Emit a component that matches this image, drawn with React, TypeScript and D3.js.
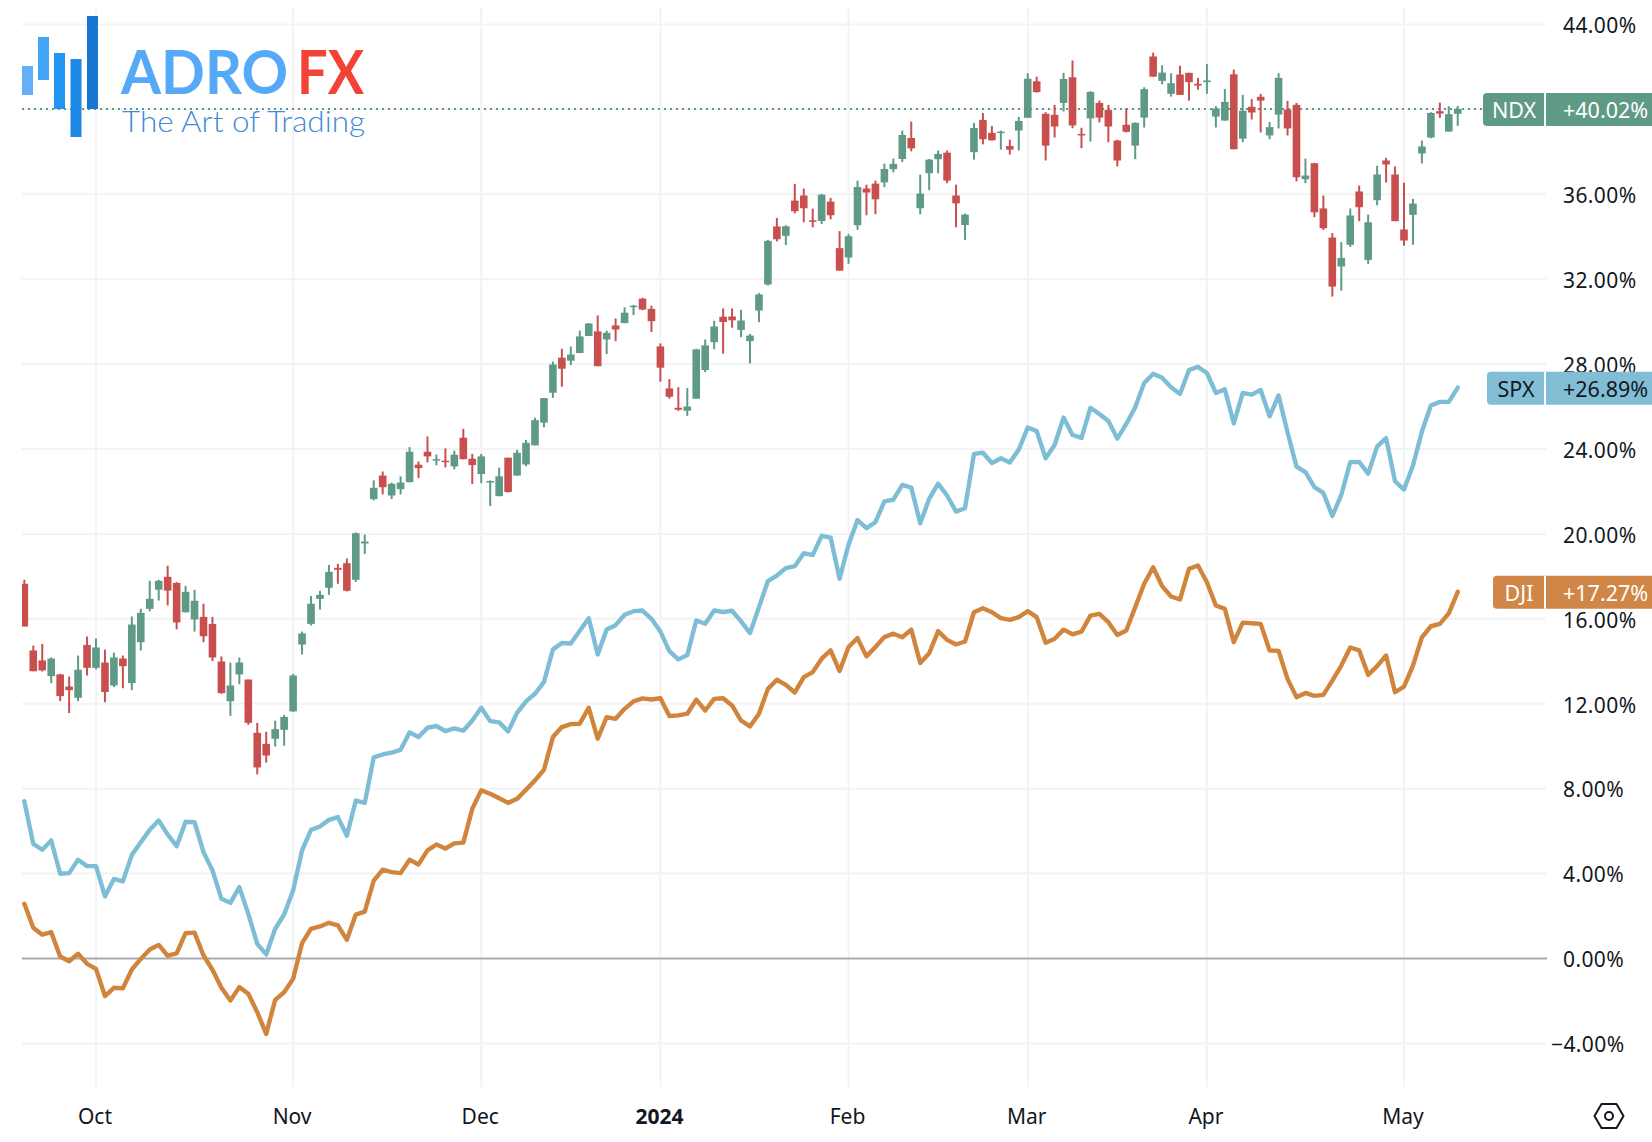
import React from "react";
import * as d3 from "d3";

// NDX daily candles in % since start: [open, high, low, close]
const ndxCandles: [number, number, number, number][] = [
  [17.65, 17.84, 15.64, 15.64], [14.51, 14.74, 13.53, 13.53], [14.04, 14.82, 13.52, 13.57], [13.3, 14.18, 12.97, 14.13],
  [13.38, 13.41, 12.12, 12.36], [12.81, 13.28, 11.56, 12.64], [12.28, 14.27, 12.12, 13.6], [14.77, 15.17, 13.33, 13.69],
  [13.69, 15.07, 13.63, 14.65], [13.94, 14.55, 12.07, 12.55], [12.86, 14.41, 12.78, 14.18], [14.13, 14.27, 12.73, 13.77],
  [12.97, 16.11, 12.64, 15.73], [14.9, 16.47, 14.51, 16.28], [16.47, 17.79, 16.35, 16.94], [17.37, 17.84, 16.86, 17.79],
  [17.98, 18.5, 16.63, 17.33], [17.69, 17.73, 15.5, 15.83], [16.31, 17.55, 16.3, 17.27], [15.97, 17.37, 15.4, 16.85],
  [16.09, 16.71, 14.9, 15.18], [15.76, 16.09, 14.01, 14.18], [13.99, 14.23, 12.47, 12.5], [12.12, 13.94, 11.43, 12.86],
  [13.38, 14.18, 12.92, 13.94], [13.14, 13.14, 11.01, 11.1], [10.63, 11.1, 8.67, 9.0], [10.11, 10.68, 9.23, 9.56],
  [10.35, 11.2, 9.99, 10.8], [10.77, 11.48, 10.02, 11.38], [11.64, 13.41, 11.62, 13.33], [14.79, 15.4, 14.32, 15.31],
  [15.76, 17.08, 15.69, 16.71], [16.94, 17.32, 16.44, 17.13], [17.46, 18.54, 17.13, 18.21], [18.4, 18.59, 17.65, 18.31],
  [18.62, 18.84, 17.29, 17.32], [17.84, 20.07, 17.74, 20.03], [19.55, 19.97, 19.06, 19.64], [21.64, 22.52, 21.58, 22.17],
  [22.75, 22.94, 21.86, 22.2], [21.81, 22.42, 21.64, 22.36], [22.11, 22.71, 21.86, 22.42], [22.44, 24.09, 22.42, 23.87],
  [23.26, 23.41, 22.63, 23.1], [23.87, 24.59, 23.37, 23.65], [23.48, 23.74, 23.23, 23.52], [23.45, 24.03, 23.13, 23.38],
  [23.18, 23.92, 23.04, 23.73], [24.53, 24.95, 23.51, 23.52], [23.54, 23.77, 22.35, 23.24], [22.82, 23.77, 22.39, 23.65],
  [22.42, 22.52, 21.31, 22.49], [21.78, 23.12, 21.77, 22.71], [23.59, 23.59, 21.95, 21.97], [22.75, 23.96, 22.74, 23.82],
  [23.27, 24.43, 23.19, 24.29], [24.17, 25.47, 24.17, 25.36], [25.24, 26.4, 25.02, 26.4], [26.65, 28.12, 26.41, 27.98],
  [28.3, 28.72, 26.93, 27.78], [28.16, 28.83, 27.95, 28.45], [28.52, 29.58, 28.52, 29.3], [29.32, 29.93, 29.32, 29.91],
  [29.54, 30.29, 27.9, 27.9], [29.16, 29.57, 28.47, 29.47], [29.82, 30.15, 29.08, 29.63], [29.93, 30.67, 29.93, 30.42],
  [30.7, 30.79, 30.31, 30.75], [31.08, 31.12, 30.54, 30.57], [30.6, 30.75, 29.51, 30.02], [28.83, 28.97, 27.17, 27.83],
  [26.85, 27.29, 26.37, 26.46], [25.94, 26.91, 25.8, 25.85], [25.8, 26.87, 25.56, 26.0], [26.37, 28.72, 26.37, 28.69],
  [27.72, 29.16, 27.62, 28.88], [29.03, 30.04, 28.7, 29.77], [30.23, 30.62, 28.49, 29.98], [30.24, 30.62, 29.71, 30.06],
  [29.61, 30.56, 29.27, 30.05], [29.08, 29.42, 28.03, 29.34], [30.52, 31.34, 29.97, 31.28], [31.75, 33.85, 31.7, 33.8],
  [34.48, 34.88, 33.78, 33.88], [34.04, 34.54, 33.61, 34.49], [35.7, 36.49, 35.1, 35.2], [35.94, 36.27, 34.68, 35.34],
  [34.77, 35.32, 34.44, 34.7], [34.74, 36.01, 34.6, 35.98], [35.65, 35.83, 34.82, 35.01], [33.46, 34.26, 32.4, 32.4],
  [33.02, 34.13, 32.72, 34.02], [34.54, 36.64, 34.32, 36.34], [36.27, 36.45, 35.01, 36.08], [36.5, 36.64, 35.06, 35.76],
  [36.56, 37.44, 36.33, 37.19], [37.18, 37.68, 37.03, 37.43], [37.66, 39.0, 37.52, 38.79], [38.65, 39.42, 38.02, 38.16],
  [35.34, 36.92, 35.06, 36.03], [36.99, 37.66, 36.19, 37.63], [37.65, 38.06, 36.99, 37.9], [37.96, 38.06, 36.52, 36.64],
  [35.94, 36.45, 34.44, 35.57], [34.55, 35.09, 33.85, 35.04], [37.98, 39.36, 37.63, 39.12], [39.5, 39.83, 38.35, 38.59],
  [38.89, 39.22, 38.53, 38.54], [38.9, 39.0, 38.1, 38.95], [38.27, 38.57, 37.87, 38.1], [39.0, 39.64, 38.06, 39.45],
  [39.6, 41.7, 39.6, 41.44], [41.32, 41.54, 40.79, 40.81], [39.79, 39.86, 37.59, 38.29], [39.74, 40.21, 38.67, 39.19],
  [40.3, 41.72, 39.9, 41.43], [41.51, 42.3, 39.11, 39.24], [38.84, 39.13, 38.17, 38.77], [39.57, 40.85, 38.48, 40.82],
  [40.3, 40.41, 39.38, 39.61], [39.97, 40.21, 38.45, 39.19], [38.53, 38.56, 37.31, 37.59], [39.27, 40.05, 38.91, 38.94],
  [38.29, 39.39, 37.65, 39.36], [39.61, 41.04, 39.14, 40.95], [42.49, 42.67, 41.54, 41.54], [41.34, 42.08, 41.18, 41.73],
  [40.73, 41.7, 40.6, 41.23], [41.64, 42.05, 40.68, 40.68], [41.72, 41.72, 40.41, 41.28], [41.2, 41.48, 40.92, 41.12],
  [41.28, 42.13, 40.73, 41.36], [39.66, 40.15, 39.14, 40.04], [39.47, 40.96, 39.47, 40.35], [41.65, 41.87, 38.12, 38.12],
  [38.62, 40.68, 38.45, 39.93], [40.12, 40.48, 39.52, 39.85], [40.59, 40.73, 38.91, 40.41], [38.77, 39.41, 38.59, 39.16],
  [39.75, 41.7, 39.1, 41.48], [39.99, 40.4, 38.77, 39.1], [40.21, 40.3, 36.61, 36.8], [36.71, 37.68, 36.52, 36.88],
  [37.46, 37.48, 34.92, 35.15], [35.33, 35.94, 34.32, 34.4], [33.96, 34.17, 31.18, 31.65], [32.6, 33.74, 31.46, 33.0],
  [33.62, 35.33, 33.52, 35.0], [36.13, 36.41, 34.73, 35.39], [32.91, 35.04, 32.72, 34.68], [35.72, 37.34, 35.48, 36.93],
  [37.59, 37.71, 36.55, 37.4], [36.93, 37.31, 34.73, 34.73], [34.34, 36.54, 33.57, 33.82], [35.03, 35.78, 33.62, 35.56],
  [37.92, 38.53, 37.45, 38.25], [38.67, 39.86, 38.64, 39.83], [39.91, 40.32, 39.6, 39.8], [38.95, 40.15, 38.95, 39.77],
  [39.79, 40.16, 39.22, 40.02],
];

const spxValues = [
  7.41, 5.4, 5.12, 5.56, 3.99, 4.02, 4.65, 4.35, 4.35, 2.92, 3.75, 3.63, 4.88, 5.48, 6.06, 6.5, 5.84, 5.29, 6.44, 6.42,
  5.01, 4.15, 2.81, 2.62, 3.36, 2.1, 0.69, 0.19, 1.4, 2.07, 3.2, 5.09, 6.06, 6.22, 6.53, 6.66, 5.78, 7.44, 7.33, 9.47,
  9.61, 9.7, 9.83, 10.65, 10.43, 10.87, 10.95, 10.71, 10.84, 10.73, 11.21, 11.81, 11.18, 11.12, 10.69, 11.57, 12.11, 12.47, 13.02, 14.56,
  14.86, 14.84, 15.44, 16.03, 14.32, 15.5, 15.7, 16.19, 16.36, 16.39, 16.0, 15.4, 14.48, 14.09, 14.29, 15.92, 15.77, 16.39, 16.32, 16.38,
  15.88, 15.33, 16.55, 17.78, 18.04, 18.39, 18.48, 19.09, 19.0, 19.91, 19.82, 17.89, 19.5, 20.65, 20.27, 20.55, 21.53, 21.61, 22.31, 22.18,
  20.5, 21.65, 22.37, 21.81, 21.05, 21.21, 23.77, 23.82, 23.34, 23.56, 23.36, 23.97, 25.01, 24.84, 23.56, 24.19, 25.48, 24.66, 24.52, 25.94,
  25.65, 25.32, 24.49, 25.18, 25.97, 27.11, 27.54, 27.36, 26.91, 26.59, 27.72, 27.87, 27.58, 26.64, 26.81, 25.21, 26.64, 26.56, 26.78, 25.54,
  26.52, 24.79, 23.17, 22.91, 22.2, 21.93, 20.85, 21.84, 23.38, 23.39, 22.84, 24.11, 24.51, 22.48, 22.09, 23.22, 24.82, 26.05, 26.22, 26.22,
  26.89,
];

const djiValues = [
  2.58, 1.45, 1.12, 1.24, 0.09, -0.13, 0.22, -0.25, -0.49, -1.77, -1.38, -1.41, -0.52, -0.02, 0.42, 0.64, 0.13, 0.24, 1.19, 1.22,
  0.14, -0.53, -1.38, -1.98, -1.35, -1.66, -2.53, -3.55, -1.95, -1.59, -0.96, 0.72, 1.4, 1.51, 1.68, 1.56, 0.88, 2.07, 2.21, 3.67,
  4.18, 4.07, 4.02, 4.65, 4.43, 5.09, 5.37, 5.18, 5.42, 5.46, 7.05, 7.92, 7.76, 7.55, 7.33, 7.52, 7.95, 8.39, 8.89, 10.43,
  10.9, 11.04, 11.06, 11.81, 10.35, 11.37, 11.29, 11.76, 12.11, 12.25, 12.2, 12.26, 11.42, 11.45, 11.53, 12.19, 11.68, 12.23, 12.26, 11.92,
  11.21, 10.93, 11.53, 12.7, 13.13, 12.89, 12.53, 13.25, 13.49, 14.12, 14.51, 13.54, 14.67, 15.09, 14.23, 14.67, 15.14, 15.3, 15.13, 15.49,
  13.92, 14.38, 15.42, 15.01, 14.79, 14.93, 16.31, 16.5, 16.31, 16.03, 15.95, 16.08, 16.36, 16.08, 14.87, 15.06, 15.49, 15.27, 15.4, 16.15,
  16.23, 15.84, 15.24, 15.45, 16.55, 17.65, 18.43, 17.54, 17.05, 16.91, 18.35, 18.51, 17.72, 16.63, 16.47, 14.9, 15.82, 15.79, 15.76, 14.51,
  14.49, 13.17, 12.31, 12.51, 12.37, 12.42, 13.09, 13.8, 14.65, 14.51, 13.36, 13.77, 14.27, 12.54, 12.81, 13.8, 15.13, 15.65, 15.76, 16.26,
  17.27,
];

const yTicks = [-4, 0, 4, 8, 12, 16, 20, 24, 28, 32, 36, 40, 44];
// the 40% label sits behind the NDX tag in the original, so it is not written
const hiddenTickLabels = [40];
const monthLabels = ["Oct", "Nov", "Dec", "2024", "Feb", "Mar", "Apr", "May"];
const monthIndex = [8, 30, 51, 71, 92, 112, 132, 154];

const seriesTags = [
  { name: "NDX", value: 40.02, fill: "#5e9a85", text: "#ffffff", left: 1483 },
  { name: "SPX", value: 26.89, fill: "#81bed6", text: "#131722", left: 1487 },
  { name: "DJI", value: 17.27, fill: "#cf8647", text: "#ffffff", left: 1493 },
];

const logoBars = [
  { x: 22, y0: 66, y1: 95, fill: "#64b0f8" },
  { x: 38, y0: 37, y1: 80, fill: "#42a5f5" },
  { x: 54, y0: 53, y1: 109, fill: "#2196f3" },
  { x: 70.5, y0: 59, y1: 137, fill: "#1e88e5" },
  { x: 87, y0: 16, y1: 109, fill: "#1976d2" },
];

const UP = "#5e9a85";
const DOWN = "#c94f4f";
const GRID = "#f2f3f4";
const FONT = "'Noto Sans', sans-serif";

const App = () => {
  const x = d3.scaleLinear().domain([8, 154]).range([96, 1404]);
  const y = d3.scaleLinear().domain([-4, 44]).range([1043.4, 24.4]);

  const line = d3
    .line<number>()
    .x((_, i) => x(i))
    .y((d) => y(d))
    .curve(d3.curveLinear);

  const formatTick = (v: number) => d3.format(".2f")(Math.abs(v)) + "%";

  return (
    <svg
      width={1652}
      height={1142}
      style={{ position: "absolute", left: 0, top: 0, background: "#fff" }}
      fontFamily={FONT}
    >
      <defs>
        <clipPath id="plot">
          <rect x={22} y={0} width={1525} height={1087} />
        </clipPath>
      </defs>

      {/* grid */}
      {monthIndex.map((m) => (
        <line key={m} x1={x(m)} x2={x(m)} y1={8} y2={1087} stroke={GRID} strokeWidth={2} />
      ))}
      {yTicks
        .filter((t) => t !== 0)
        .map((t) => (
          <line key={t} x1={22} x2={1546} y1={y(t)} y2={y(t)} stroke={GRID} strokeWidth={2} />
        ))}
      <line x1={22} x2={1547} y1={y(0)} y2={y(0)} stroke="#a3acb3" strokeWidth={2} />

      {/* last price line of NDX */}
      <line
        x1={22}
        x2={1483}
        y1={y(40.02)}
        y2={y(40.02)}
        stroke={UP}
        strokeWidth={2}
        strokeDasharray="2 4"
      />

      <g clipPath="url(#plot)">
        {ndxCandles.map(([o, h, l, c], i) => {
          const color = c >= o ? UP : DOWN;
          const top = y(Math.max(o, c));
          const bottom = y(Math.min(o, c));
          return (
            <g key={i}>
              <line x1={x(i)} x2={x(i)} y1={y(h)} y2={y(l)} stroke={color} strokeWidth={2} />
              <rect
                x={x(i) - 3.8}
                y={top}
                width={7.6}
                height={Math.max(bottom - top, 1.5)}
                fill={color}
              />
            </g>
          );
        })}
        <path d={line(spxValues) ?? ""} fill="none" stroke="#7dbdd5" strokeWidth={4.4} strokeLinejoin="round" strokeLinecap="round" />
        <path d={line(djiValues) ?? ""} fill="none" stroke="#d0843c" strokeWidth={4.4} strokeLinejoin="round" strokeLinecap="round" />
      </g>

      {/* right axis */}
      <g fontSize={21} fill="#131722" letterSpacing={0.4}>
        {yTicks
          .filter((t) => !hiddenTickLabels.includes(t))
          .map((t) => (
            <text key={t} x={t < 0 ? 1551 : 1563} y={y(t)} dy="0.42em">
              {(t < 0 ? "\u2212" : "") + formatTick(t)}
            </text>
          ))}
      </g>

      {/* series tags */}
      {seriesTags.map((s) => {
        const cy = y(s.value);
        return (
          <g key={s.name}>
            <rect x={s.left} y={cy - 16} width={1670 - s.left} height={33} rx={4} fill={s.fill} />
            <line x1={1545} x2={1545} y1={cy - 16} y2={cy + 17} stroke="#fff" strokeWidth={2} />
            <text x={(s.left + 1545) / 2} y={cy} dy="0.42em" textAnchor="middle" fontSize={21.5} fill={s.text}>
              {s.name}
            </text>
            <text x={1563} y={cy} dy="0.42em" fontSize={21.5} fill={s.text}>
              {"+" + d3.format(".2f")(s.value) + "%"}
            </text>
          </g>
        );
      })}

      {/* time axis */}
      <g fontSize={21} fill="#131722" textAnchor="middle">
        {monthLabels.map((m, i) => (
          <text key={m} x={x(monthIndex[i]) - 1} y={1116} dy="0.36em" fontWeight={m === "2024" ? 700 : 400}>
            {m}
          </text>
        ))}
      </g>

      {/* settings icon */}
      <g transform="translate(1609,1116)" fill="none" stroke="#131722" strokeWidth={2}>
        <path d="M-14.5,0 L-7.5,-12 L7.5,-12 L14.5,0 L7.5,12 L-7.5,12 Z" strokeLinejoin="round" />
        <circle r={4} />
      </g>

      {/* logo */}
      <g>
        {logoBars.map((b) => (
          <rect key={b.x} x={b.x} y={b.y0} width={11} height={b.y1 - b.y0} fill={b.fill} />
        ))}
        <text
          x={121}
          y={94}
          fontSize={61}
          fontWeight={700}
          fill="#56a9f7"
          fontFamily="Lato, sans-serif"
          textLength={167}
          lengthAdjust="spacingAndGlyphs"
        >
          ADRO
        </text>
        <text
          x={297}
          y={94}
          fontSize={61}
          fontWeight={700}
          fill="#f44336"
          fontFamily="Lato, sans-serif"
          textLength={67}
          lengthAdjust="spacingAndGlyphs"
        >
          FX
        </text>
        <text
          x={122}
          y={132}
          fontSize={29}
          fontWeight={300}
          fill="#4289d6"
          fontFamily="Lato, sans-serif"
          textLength={243}
          lengthAdjust="spacingAndGlyphs"
        >
          The Art of Trading
        </text>
      </g>
    </svg>
  );
};

export default App;
